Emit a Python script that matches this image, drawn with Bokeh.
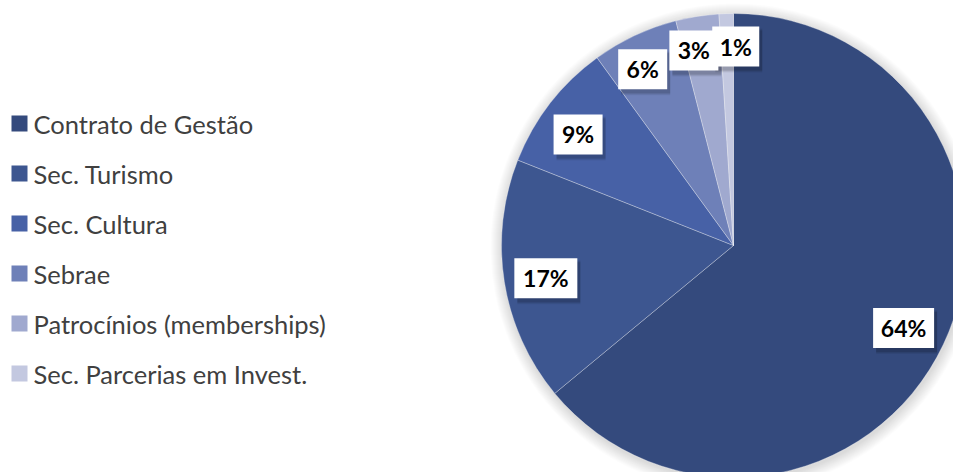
import math
from bokeh.plotting import figure
from bokeh.models import Range1d, ColumnDataSource
from bokeh.core.properties import value
from bokeh.embed import file_html
from bokeh.resources import INLINE

# ---- data ----
categories = ["Contrato de Gestão", "Sec. Turismo", "Sec. Cultura", "Sebrae",
              "Patrocínios (memberships)", "Sec. Parcerias em Invest."]
shares = [64, 17, 9, 6, 3, 1]
labels = ["64%", "17%", "9%", "6%", "3%", "1%"]
colors = ["#344A7D", "#3D5690", "#4761A6", "#6E80B8", "#A0A9CF", "#C3C8E0"]

# ---- layout ----
W, H = 953, 472
CX, CY = 733, H - 245   # pie centre (data coords)
R = 232
FONT = "Lato"

p = figure(width=W, height=H, output_backend="svg", toolbar_location=None,
           x_range=Range1d(0, W), y_range=Range1d(0, H), min_border=0)
p.axis.visible = False
p.grid.visible = False
p.outline_line_color = None
p.background_fill_color = "white"
p.border_fill_color = "white"

# soft outer shadow
for k in range(12, 0, -1):
    p.circle(x=[CX + 1], y=[CY - 2], radius=R + k, fill_color="#000000",
             fill_alpha=0.012, line_color=None)

total = float(sum(shares))
starts, ends, mids = [], [], []
cum = 0.0
for s in shares:
    a0 = math.pi / 2 - 2 * math.pi * cum / total
    cum += s
    a1 = math.pi / 2 - 2 * math.pi * cum / total
    starts.append(a0)
    ends.append(a1)
    mids.append((a0 + a1) / 2)

src = ColumnDataSource(dict(start=starts, end=ends, color=colors))
p.wedge(x=CX, y=CY, radius=R, start_angle="start", end_angle="end",
        direction="clock", fill_color="color", line_color="white",
        line_width=0.6, line_alpha=0.5, source=src)

# data labels (white boxes with shadow), placed along each slice's mid-angle
label_r = [188, 190, 191, 198, 199, 199]
label_dx = [0, 0, -4.5, -6.5, -8.5, 8.5]
label_dy = [-2.5, -3, -6, -3, -1.5, 0]
box_w = [61, 63, 49, 49, 49, 47]
lx = [CX + r * math.cos(m) + dx for r, m, dx in zip(label_r, mids, label_dx)]
ly = [CY + r * math.sin(m) + dy for r, m, dy in zip(label_r, mids, label_dy)]
lsrc = ColumnDataSource(dict(x=lx, y=ly, w=box_w, t=labels,
                             sx=[v + 3 for v in lx], sy=[v - 4 for v in ly]))
for off, a in [(0, 0.10), (1, 0.08), (2, 0.06)]:
    p.rect(x="sx", y="sy", width="w", height=40 + 2 * off, source=lsrc,
           fill_color="#000000", fill_alpha=a, line_color=None)
p.rect(x="x", y="y", width="w", height=40, source=lsrc, fill_color="white",
       line_color=None)
p.text(x="x", y="y", text="t", source=lsrc, text_align="center",
       text_baseline="middle", text_font=value(FONT), text_font_style="bold",
       text_font_size="23px", text_color="#000000")

# legend
ROW0, STEP = 123, 50
leg_y = [H - (ROW0 + i * STEP) for i in range(len(categories))]
legsrc = ColumnDataSource(dict(x=[19] * len(categories), tx=[33] * len(categories),
                               y=leg_y, c=colors, t=categories))
p.rect(x="x", y="y", width=16, height=16, source=legsrc, fill_color="c",
       line_color=None)
p.text(x="tx", y="y", text="t", source=legsrc, text_align="left",
       text_baseline="middle", text_font=value(FONT), text_font_size="25.5px",
       text_color="#404040")

open("out.html", "w").write(file_html(p, INLINE))
